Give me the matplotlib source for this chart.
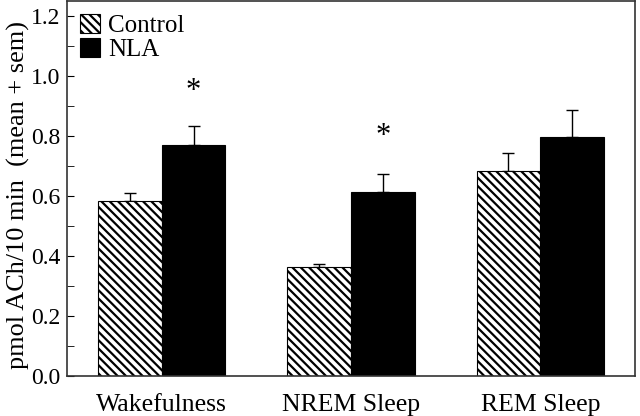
import matplotlib
matplotlib.use("Agg")
import matplotlib.pyplot as plt
import numpy as np
from matplotlib.ticker import MultipleLocator

categories = ["Wakefulness", "NREM Sleep", "REM Sleep"]
control_mean = [0.583, 0.363, 0.685]
control_sem = [0.027, 0.012, 0.058]
nla_mean = [0.770, 0.615, 0.797]
nla_sem = [0.065, 0.060, 0.090]
star_y = [0.95, 0.80]
star_idx = [0, 1]

plt.rcParams['font.family'] = ['Liberation Serif', 'DejaVu Serif']
plt.rcParams['hatch.linewidth'] = 1.6

fig = plt.figure(figsize=(6.4, 4.16), dpi=100)
ax = fig.add_axes([0.105, 0.096, 0.887, 0.901])

x = np.arange(len(categories))
w = 0.336
ax.bar(x - w/2, control_mean, w, color='white', edgecolor='black',
       hatch='\\\\\\\\', linewidth=0.8, label='Control', zorder=2)
ax.bar(x + w/2, nla_mean, w, color='black', edgecolor='black',
       linewidth=0.8, label='NLA', zorder=2)
ax.errorbar(x - w/2, control_mean, yerr=[np.zeros(3), control_sem], fmt='none',
            ecolor='black', elinewidth=1.0, capsize=4, capthick=1.0, zorder=1)
ax.errorbar(x + w/2, nla_mean, yerr=[np.zeros(3), nla_sem], fmt='none',
            ecolor='black', elinewidth=1.0, capsize=4, capthick=1.0, zorder=1)
for i, yv in zip(star_idx, star_y):
    ax.text(x[i] + w/2, yv, '*', ha='center', va='center', fontsize=22)

ax.set_xlim(-0.5, 2.5)
ax.set_ylim(0, 1.25)
ax.set_xticks(x)
ax.set_xticklabels(categories, fontsize=18.5)
ax.tick_params(axis='x', length=0, pad=13)
ax.yaxis.set_major_locator(MultipleLocator(0.2))
ax.yaxis.set_minor_locator(MultipleLocator(0.1))
ax.yaxis.set_major_formatter(matplotlib.ticker.FormatStrFormatter('%.1f'))
ax.tick_params(axis='y', which='both', direction='in', length=5, labelsize=17, pad=5)
ax.set_ylabel('pmol ACh/10 min  (mean + sem)', fontsize=18.9)
ax.yaxis.set_label_coords(-0.066, 0.483)
for s in ax.spines.values():
    s.set_color('#333333')
    s.set_linewidth(1.2)

ax.legend(loc='upper left', frameon=False, fontsize=18, handlelength=0.8,
          handleheight=0.8, handletextpad=0.35, borderaxespad=0.3, labelspacing=0.05,
          borderpad=0.2)

fig.savefig('out.png', dpi=100)
